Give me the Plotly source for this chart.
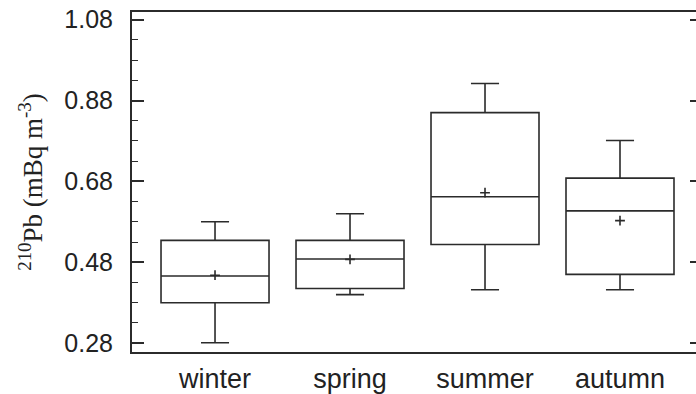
import plotly.graph_objects as go

# Seasonal 210Pb activity concentration summary statistics (mBq m-3)
seasons = ["winter", "spring", "summer", "autumn"]
lower_whisker = [0.281, 0.400, 0.412, 0.412]
q1_values = [0.380, 0.415, 0.524, 0.450]
median_values = [0.446, 0.488, 0.642, 0.607]
q3_values = [0.534, 0.534, 0.850, 0.688]
upper_whisker = [0.580, 0.600, 0.922, 0.781]
mean_values = [0.448, 0.487, 0.652, 0.583]

major_ticks = [0.28, 0.48, 0.68, 0.88, 1.08]
major_labels = ["0.28", "0.48", "0.68", "0.88", "1.08"]

ink = "#2b2b2b"
sans = "Liberation Sans, Arial, sans-serif"
serif = "Liberation Serif, Times New Roman, serif"

fig = go.Figure()

fig.add_trace(go.Box(
    x=seasons,
    q1=q1_values,
    median=median_values,
    q3=q3_values,
    lowerfence=lower_whisker,
    upperfence=upper_whisker,
    width=0.8,
    fillcolor="rgba(0,0,0,0)",
    line=dict(color=ink, width=1.6),
    whiskerwidth=0.26,
    boxpoints=False,
    showlegend=False,
    hoverinfo="skip",
))

# Mean shown as a small plus sign inside each box
fig.add_trace(go.Scatter(
    x=seasons,
    y=mean_values,
    mode="markers",
    marker=dict(symbol="cross-thin", size=7, line=dict(color=ink, width=1.6)),
    showlegend=False,
    hoverinfo="skip",
))

# Invisible trace on the secondary axis so the right-hand ticks render
fig.add_trace(go.Scatter(
    x=seasons, y=median_values, yaxis="y2",
    mode="markers", marker=dict(opacity=0),
    showlegend=False, hoverinfo="skip",
))

y_range = [0.258, 1.099]

fig.update_layout(
    width=696,
    height=394,
    margin=dict(l=132, r=0, t=12, b=40),
    paper_bgcolor="white",
    plot_bgcolor="white",
    xaxis=dict(
        type="category",
        categoryorder="array",
        categoryarray=seasons,
        range=[-0.615, 3.563],
        showline=True,
        linecolor=ink,
        linewidth=2,
        mirror=True,
        ticks="",
        showgrid=False,
        zeroline=False,
        tickfont=dict(family=sans, size=27, color="#222"),
        ticklabelstandoff=2,
    ),
    yaxis=dict(
        range=y_range,
        tickvals=major_ticks,
        ticktext=major_labels,
        ticks="inside",
        ticklen=12,
        tickwidth=1.6,
        tickcolor=ink,
        showline=True,
        linecolor=ink,
        linewidth=2,
        showgrid=False,
        zeroline=False,
        tickfont=dict(family=sans, size=25, color="#222"),
        ticklabelstandoff=12,
        minor=dict(dtick=0.05, tick0=0.28, ticks="inside", ticklen=6,
                   tickwidth=1.4, tickcolor=ink, showgrid=False),
        title=dict(
            text="<sup>210</sup>Pb (mBq m<sup>-3</sup>)",
            font=dict(family=serif, size=27, color="#222"),
            standoff=14,
        ),
    ),
    yaxis2=dict(
        range=y_range,
        overlaying="y",
        side="right",
        tickvals=major_ticks,
        ticks="inside",
        ticklen=6,
        tickwidth=1.6,
        tickcolor=ink,
        showticklabels=False,
        showline=False,
        showgrid=False,
        zeroline=False,
    ),
)

fig.write_html("out.html")
